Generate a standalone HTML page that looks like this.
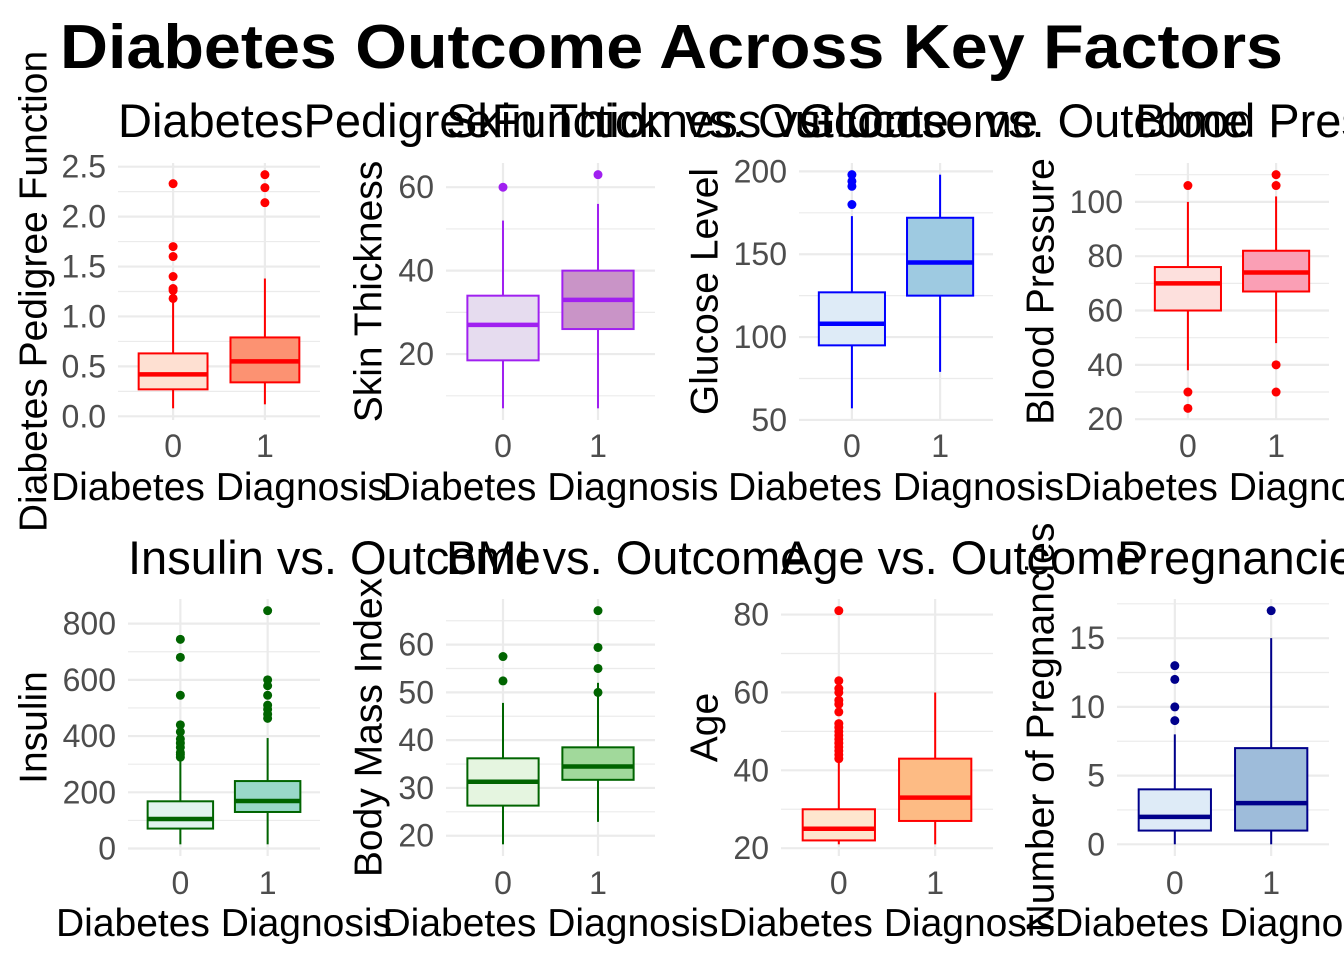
<!DOCTYPE html>
<html><head><meta charset="utf-8">
<style>
html,body{margin:0;padding:0;background:#fff;}
svg{display:block;font-family:"Liberation Sans",Arial,sans-serif;}
</style></head>
<body>
<svg id="chart" width="1344" height="960" viewBox="0 0 1344 960">
<text x="60" y="68" font-size="62" font-weight="bold" fill="#000" textLength="1223" lengthAdjust="spacingAndGlyphs">Diabetes Outcome Across Key Factors</text>
</svg>
<script>
// categories
const categories = ["0","1"];
// panel titles / axis labels
const panelTitles = ["DiabetesPedigreeFunction vs. Outcome","Skin Thickness vs. Outcome","Glucose vs. Outcome","Blood Pressure vs. Outcome","Insulin vs. Outcome","BMI vs. Outcome","Age vs. Outcome","Pregnancies vs. Outcome"];
const yTitles = ["Diabetes Pedigree Function","Skin Thickness","Glucose Level","Blood Pressure","Insulin","Body Mass Index","Age","Number of Pregnancies"];
// box stats per panel: [low, q1, median, q3, high] for outcome 0 and 1
const stats0 = [[0.08,0.27,0.42,0.63,1.16],[7,18.5,27,34,52],[57,95,108,127,173],[38,60,70,76,100],[15,71,105,168,321],[18.2,26.3,31.3,36.2,47.8],[21,22,25,30,42],[0,1,2,4,8]];
const stats1 = [[0.12,0.34,0.55,0.79,1.38],[7,26,33,40,56],[79,125,145,172,198],[48,67,74,82,102],[15,130,169,240,393],[22.9,31.7,34.5,38.5,52],[21,27,33,43,60],[0,1,3,7,15]];
const outliers0 = [[1.18,1.26,1.28,1.40,1.60,1.70,2.33],[60],[180,191,194,198],[24,30,106],[325,335,342,360,375,390,415,440,545,680,744],[52.4,57.5],[43,44,45,46,47,48,49,50,51,52,55,57,58,60,61,63,81],[9,10,12,13]];
const outliers1 = [[2.14,2.29,2.42],[63],[],[30,40,106,110],[463,478,495,510,545,579,600,846],[50,55,59.4,67.1],[],[17]];
const yTicks = [[0,0.5,1,1.5,2,2.5],[20,40,60],[50,100,150,200],[20,40,60,80,100],[0,200,400,600,800],[20,30,40,50,60],[20,40,60,80],[0,5,10,15]];
const tickLabels = [["0.0","0.5","1.0","1.5","2.0","2.5"],["20","40","60"],["50","100","150","200"],["20","40","60","80","100"],["0","200","400","600","800"],["20","30","40","50","60"],["20","40","60","80"],["0","5","10","15"]];
const lineColors = ["#ff0000","#a020f0","#0000ff","#ff0000","#006400","#006400","#ff0000","#00008b"];
const fill0 = ["#fee0d2","#e6dcef","#deebf7","#fde0dd","#e0f3ee","#e5f5e0","#fee6ce","#deebf7"];
const fill1 = ["#fc9272","#c994c7","#9ecae1","#fa9fb5","#99d8c9","#a1d99b","#fdbb84","#9ebcda"];

const NS="http://www.w3.org/2000/svg";
const svg=document.getElementById('chart');
function mk(tag,attrs,parent){const e=document.createElementNS(NS,tag);for(const k in attrs)e.setAttribute(k,attrs[k]);(parent||svg).appendChild(e);return e;}
const plotX=[[118,320],[446,655],[799,993],[1135,1329],[128,320],[446,655],[781,993],[1117,1329]];
const yTitleX=[33,368,704,1040,33,368,704,1040];
const rowY=[[163,420],[599,856]];
const titleY=[137,574], tickY=[457,894], xTitleY=[500,936];

for(let p=0;p<8;p++){
  const r=p<4?0:1;
  const [x0,x1]=plotX[p];const [yt,yb]=rowY[r];
  const g=mk('g',{});
  
  
  let all=stats0[p].concat(stats1[p],outliers0[p],outliers1[p]);
  let mn=Math.min(...all),mx=Math.max(...all),ex=(mx-mn)*0.05;
  const lo=mn-ex,hi=mx+ex;
  const y=v=>yb-(v-lo)/(hi-lo)*(yb-yt);
  const unit=(x1-x0)/2.2;
  const x=i=>x0+unit*(0.6+i);
  const tk=yTicks[p];const step=tk[1]-tk[0];
  for(let v=tk[0]-step/2;v<=hi;v+=step){ if(v<lo)continue;
    const l=mk('line',{x1:x0,x2:x1,y1:y(v),y2:y(v),stroke:'#ebebeb','stroke-width':1.2},g);
    }
  tk.forEach((v,i)=>{
    const l=mk('line',{x1:x0,x2:x1,y1:y(v),y2:y(v),stroke:'#ebebeb','stroke-width':2.2},g);
    
    const t=mk('text',{x:x0-12,y:y(v)+11,'text-anchor':'end','font-size':32,fill:'#4d4d4d'},g);
    t.textContent=tickLabels[p][i];
    
  });
  categories.forEach((c,i)=>{
    const l=mk('line',{x1:x(i),x2:x(i),y1:yt,y2:yb,stroke:'#ebebeb','stroke-width':2.2},g);
    
    const t=mk('text',{x:x(i),y:tickY[r],'text-anchor':'middle','font-size':32,fill:'#4d4d4d'},g);
    t.textContent=c;
    
  });
  const bw=unit*0.75, col=lineColors[p];
  [[stats0[p],outliers0[p],fill0[p]],[stats1[p],outliers1[p],fill1[p]]].forEach(([s,o,f],i)=>{
    const cx=x(i);
    const bg=mk('g',{},g);
    
    mk('line',{x1:cx,x2:cx,y1:y(s[0]),y2:y(s[1]),stroke:col,'stroke-width':2},bg);
    mk('line',{x1:cx,x2:cx,y1:y(s[3]),y2:y(s[4]),stroke:col,'stroke-width':2},bg);
    mk('rect',{x:cx-bw/2,y:y(s[3]),width:bw,height:y(s[1])-y(s[3]),fill:f,stroke:col,'stroke-width':2},bg);
    mk('line',{x1:cx-bw/2,x2:cx+bw/2,y1:y(s[2]),y2:y(s[2]),stroke:col,'stroke-width':4.5},bg);
    o.forEach(v=>{const c=mk('circle',{cx:cx,cy:y(v),r:4.5,fill:col},bg);
      });
  });
  const yt2=mk('text',{x:yTitleX[p],y:(yt+yb)/2,'text-anchor':'middle','font-size':39,fill:'#000',transform:`rotate(-90 ${yTitleX[p]} ${(yt+yb)/2})`,dy:'0.35em'},g);
  yt2.textContent=yTitles[p];
  
  const xt=mk('text',{x:(x0+x1)/2,y:xTitleY[r],'text-anchor':'middle','font-size':39,fill:'#000'},g);
  xt.textContent='Diabetes Diagnosis';
  
  const tt=mk('text',{x:x0,y:titleY[r],'font-size':47,fill:'#000'},g);
  tt.textContent=panelTitles[p];
  
}
</script>
</body></html>
